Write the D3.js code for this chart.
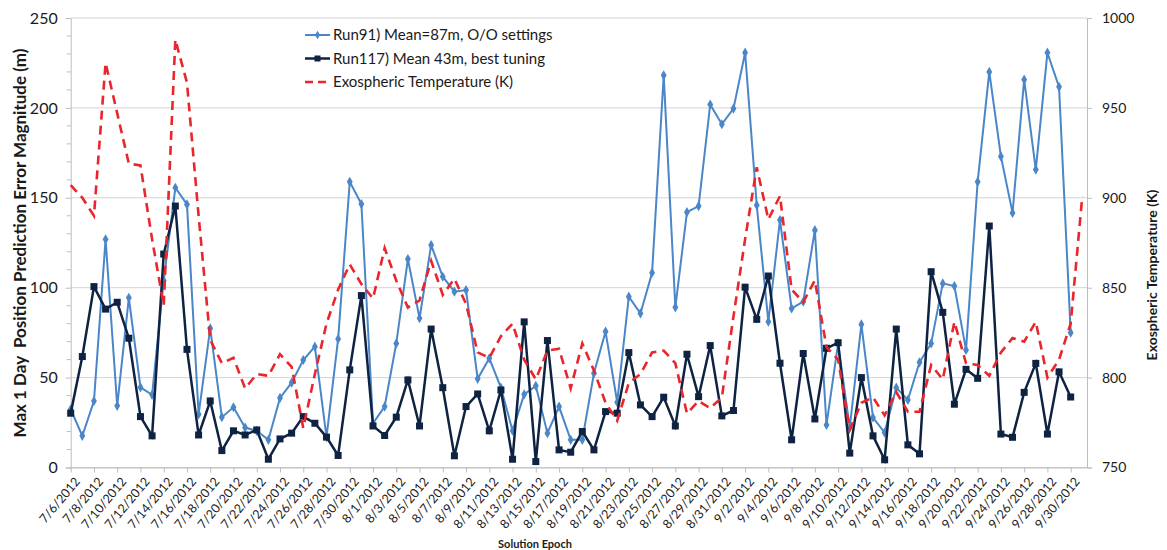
<!DOCTYPE html>
<html><head><meta charset="utf-8">
<script src="https://cdn.jsdelivr.net/npm/d3@7"></script>
<style>
html,body{margin:0;padding:0;background:#fff;}
svg{display:block;}
text{font-family:Lato,"Open Sans",sans-serif;fill:#1a1a1a;}
</style></head><body>
<svg id="chart" width="1167" height="550"></svg>
<script>
const dates = ["7/6/2012","7/7/2012","7/8/2012","7/9/2012","7/10/2012","7/11/2012","7/12/2012","7/13/2012","7/14/2012","7/15/2012",
"7/16/2012","7/17/2012","7/18/2012","7/19/2012","7/20/2012","7/21/2012","7/22/2012","7/23/2012","7/24/2012","7/25/2012",
"7/26/2012","7/27/2012","7/28/2012","7/29/2012","7/30/2012","7/31/2012","8/1/2012","8/2/2012","8/3/2012","8/4/2012",
"8/5/2012","8/6/2012","8/7/2012","8/8/2012","8/9/2012","8/10/2012","8/11/2012","8/12/2012","8/13/2012","8/14/2012",
"8/15/2012","8/16/2012","8/17/2012","8/18/2012","8/19/2012","8/20/2012","8/21/2012","8/22/2012","8/23/2012","8/24/2012",
"8/25/2012","8/26/2012","8/27/2012","8/28/2012","8/29/2012","8/30/2012","8/31/2012","9/1/2012","9/2/2012","9/3/2012",
"9/4/2012","9/5/2012","9/6/2012","9/7/2012","9/8/2012","9/9/2012","9/10/2012","9/11/2012","9/12/2012","9/13/2012",
"9/14/2012","9/15/2012","9/16/2012","9/17/2012","9/18/2012","9/19/2012","9/20/2012","9/21/2012","9/22/2012","9/23/2012",
"9/24/2012","9/25/2012","9/26/2012","9/27/2012","9/28/2012","9/29/2012","9/30/2012","10/1/2012"];

const run91 = [32.4,17.6,37,126.9,34.3,94.4,44.6,40.4,104,155.6,
146.3,29.6,77.4,28,33.5,22.2,20.4,15.4,38.7,47.2,
59.8,67.2,16.9,71.5,158.9,146.5,24.6,33.9,69,115.9,
83,123.7,106.1,97.8,98.7,49.3,60.7,44.4,20.5,40.7,
45.4,19.1,33.9,15.4,15.4,52.4,75.6,36.3,95,85.7,
108.3,218.1,89.1,142,145.4,201.9,190.9,199.6,230.7,145.9,
81.1,137.6,88.5,92.2,132,23.7,69,22.2,79.6,27.8,
19.4,44.4,37.6,58.5,69,102.4,100.9,65.4,158.9,220,
173,141.6,215.7,165.7,230.7,211.7,75,null];

const run117 = [30.2,61.7,100.6,88.1,91.9,71.9,28.3,17.6,118.7,145.4,
65.7,18.1,37,9.4,20.4,18.1,20.9,4.6,15.9,19.1,
28.3,24.6,16.9,6.7,54.3,95.6,23.1,17.8,28,48.7,
23.1,77,44.4,6.5,33.9,40.9,20.4,43.1,4.6,81,
3.3,70.6,9.8,8.5,20,9.8,31.1,30.2,63.9,34.8,
28.3,39.1,23.1,63,39.4,67.8,28.7,31.7,100.3,82.4,
106.5,58,15.4,63.4,27,66.3,69.4,8,50,17.6,
4.3,77,12.6,7.6,108.9,86.3,35.2,54.6,49.6,134.3,
18.6,16.8,41.8,57.9,18.6,53.2,39.2,null];

const temperature = [907,900,890,975,947,919,918,877,840,988,
964,890,821,808,811,794,802,801,813,806,
772,802,830,849,863,852,844,872,854,839,
843,865,846,855,841,814,811,823,830,810,
799,815,816,794,819,804,786,776,797,802,
814,815,808,780,787,783,789,834,877,917,
888,901,849,842,854,817,810,771,786,789,
779,792,781,781,807,799,831,808,807,801,
814,822,820,831,800,810,830,901];

const leftTicks = [0,50,100,150,200,250];
const rightTicks = [750,800,850,900,950,1000];
const seriesNames = ["Run91) Mean=87m, O/O settings","Run117) Mean 43m, best tuning","Exospheric Temperature (K)"];

const C91 = "#4a86c8", C117 = "#0e2242", CT = "#e8262c", GRID = "#d4d4d4", AX = "#bdbdbd";
const L = 70.7, R = 1087, T = 18, B = 467.5;

const svg = d3.select("#chart");
const x = d3.scalePoint().domain(dates).range([L, 1082.3]);
const y = d3.scaleLinear().domain([0,250]).range([B, T]);
const y2 = d3.scaleLinear().domain([750,1000]).range([B, T]);

// gridlines
svg.append("g").selectAll("line").data(leftTicks).join("line")
  .attr("x1", L).attr("x2", R).attr("y1", d=>y(d)).attr("y2", d=>y(d))
  .attr("stroke", GRID).attr("stroke-width", 1);

// left axis
const gl = svg.append("g").attr("transform", `translate(${L},0)`)
  .call(d3.axisLeft(y).tickValues(leftTicks).tickSize(5).tickPadding(8));
gl.select(".domain").attr("stroke", AX);
gl.selectAll(".tick line").attr("stroke", AX);
gl.selectAll("text").style("font-size","16px").style("font-family","Lato, sans-serif").attr("fill","#1a1a1a");
// minor ticks
svg.append("g").selectAll("line").data(d3.range(0,251,10).filter(v=>v%50!==0)).join("line")
  .attr("x1", L-4).attr("x2", L).attr("y1", d=>y(d)).attr("y2", d=>y(d)).attr("stroke", AX);

// right axis
const gr = svg.append("g").attr("transform", `translate(${R},0)`)
  .call(d3.axisRight(y2).tickValues(rightTicks).tickFormat(d3.format("d")).tickSize(5).tickPadding(10));
gr.select(".domain").attr("stroke", AX);
gr.selectAll(".tick line").attr("stroke", AX);
gr.selectAll("text").style("font-size","14px").style("font-family","Lato, sans-serif").attr("fill","#1a1a1a");

// bottom axis
const gb = svg.append("g").attr("transform", `translate(0,${B})`)
  .call(d3.axisBottom(x).tickValues(dates.filter((d,i)=>i%2===0 && i<87)).tickSize(5).tickPadding(2));
gb.select(".domain").attr("stroke", AX).attr("d", `M${L},0.5H${R}`);
gb.selectAll(".tick line").attr("stroke", AX);
gb.selectAll("text").style("font-size","12.5px").style("font-family","Lato, sans-serif").attr("fill","#1a1a1a")
  .attr("text-anchor","end").attr("dy","0").attr("transform","translate(4,10) rotate(-50)");

// lines
const line = (ys, data) => d3.line().defined(d=>d!=null).x((d,i)=>x(dates[i])).y(d=>ys(d))(data);
svg.append("path").attr("d", line(y, run91)).attr("fill","none").attr("stroke",C91).attr("stroke-width",2);
svg.append("g").selectAll("path").data(run91.map((v,i)=>[i,v]).filter(d=>d[1]!=null)).join("path")
  .attr("d", d3.symbol(d3.symbolDiamond, 30)())
  .attr("transform", d=>`translate(${x(dates[d[0]])},${y(d[1])})`).attr("fill",C91);

svg.append("path").attr("d", line(y, run117)).attr("fill","none").attr("stroke",C117).attr("stroke-width",2.5);
svg.append("g").selectAll("rect").data(run117.map((v,i)=>[i,v]).filter(d=>d[1]!=null)).join("rect")
  .attr("x", d=>x(dates[d[0]])-3.5).attr("y", d=>y(d[1])-3.5).attr("width",7).attr("height",7).attr("fill",C117);

svg.append("path").attr("d", line(y2, temperature)).attr("fill","none").attr("stroke",CT)
  .attr("stroke-width",2.6).attr("stroke-dasharray","9,6");

// legend
const lg = svg.append("g");
const ly = [35, 58.5, 82];
[C91, C117, CT].forEach((c,k)=>{
  const l = lg.append("line").attr("x1",305).attr("x2",330).attr("y1",ly[k]).attr("y2",ly[k]).attr("stroke",c)
    .attr("stroke-width", k===1?2.5:2);
  if (k===2) l.attr("stroke-dasharray","8,5").attr("stroke-width",2.6);
  if (k===0) lg.append("path").attr("d", d3.symbol(d3.symbolDiamond, 22)()).attr("transform",`translate(317.5,${ly[k]})`).attr("fill",c);
  if (k===1) lg.append("rect").attr("x",314.5).attr("y",ly[k]-3).attr("width",6).attr("height",6).attr("fill",c);
  lg.append("text").attr("x",333).attr("y",ly[k]).attr("dy","0.35em").style("font-size","15px").text(seriesNames[k]);
});

// axis titles
svg.append("text").attr("transform","translate(26,243) rotate(-90)").attr("text-anchor","middle")
  .style("font-size","17px").style("font-weight","bold").style("white-space","pre")
  .text("Max 1 Day  Position Prediction Error Magnitude (m)");
svg.append("text").attr("transform","translate(1157,275) rotate(-90)").attr("text-anchor","middle")
  .style("font-size","14px").style("font-weight","bold").text("Exospheric Temperature (K)");
svg.append("text").attr("x",535).attr("y",548).attr("text-anchor","middle")
  .style("font-size","11px").style("font-weight","bold").text("Solution Epoch");
</script>
</body></html>
